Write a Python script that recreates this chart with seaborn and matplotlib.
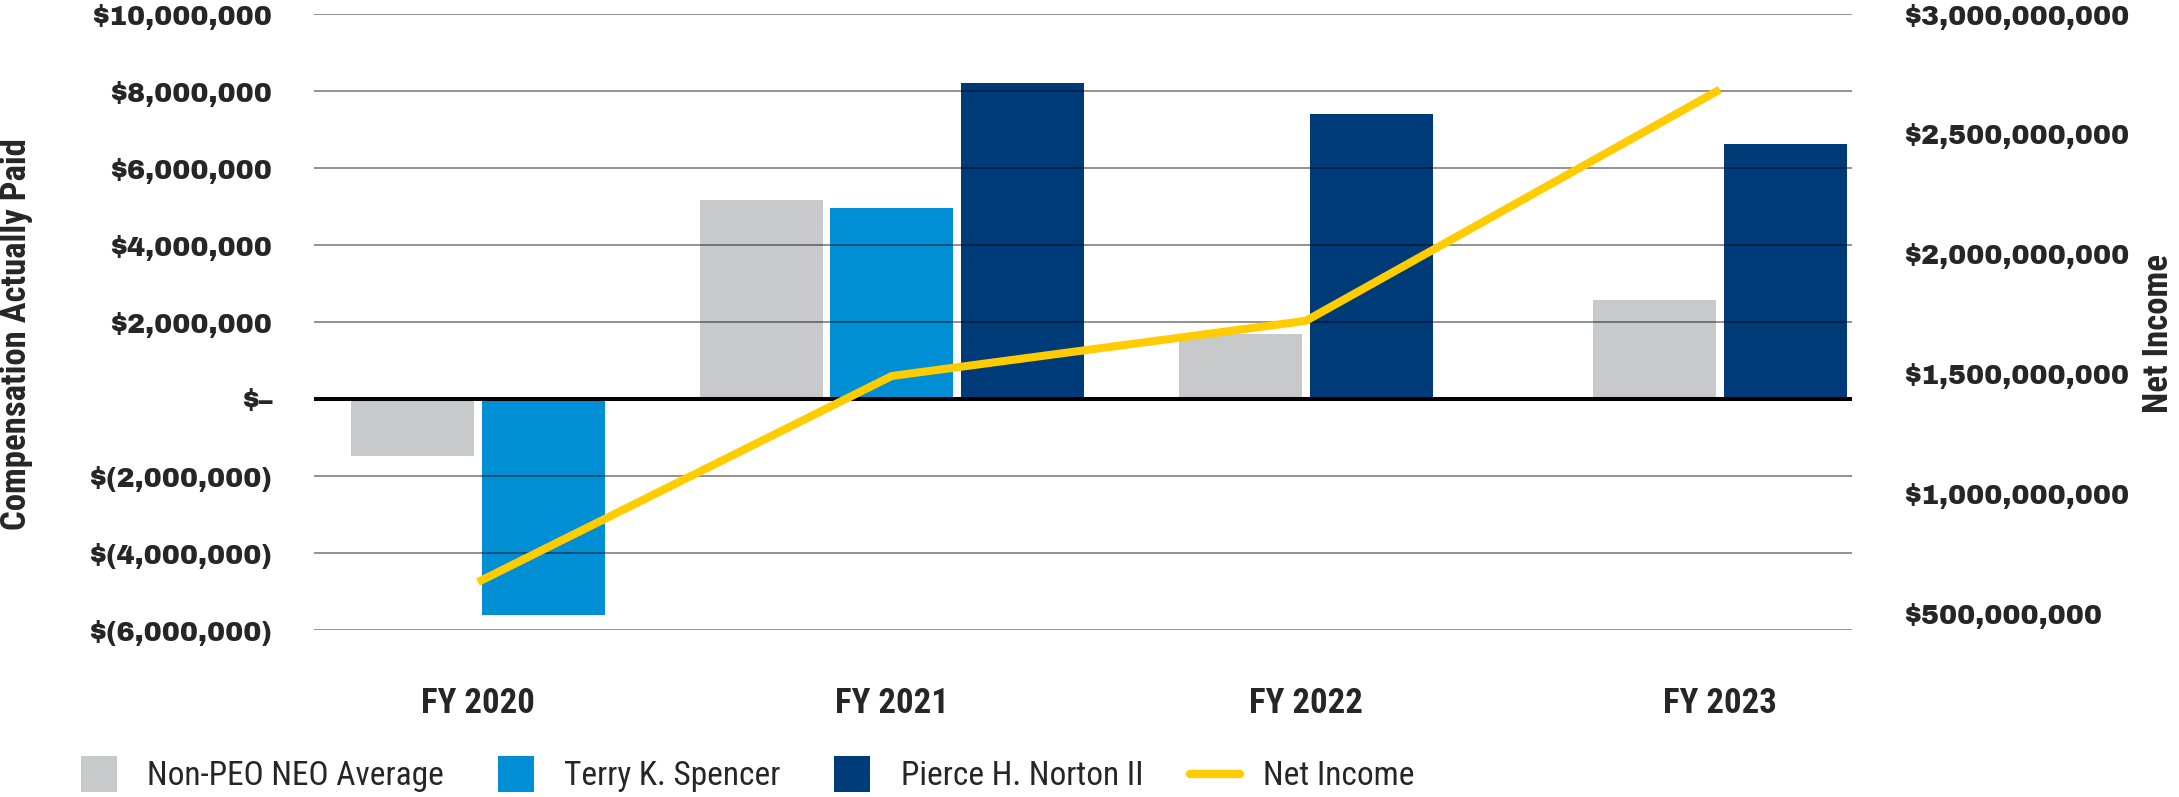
import numpy as np
import pandas as pd
import matplotlib
matplotlib.use('Agg')
import matplotlib.pyplot as plt
import seaborn as sns
from matplotlib.lines import Line2D

# values
years = ['FY 2020', 'FY 2021', 'FY 2022', 'FY 2023']
series = ['Non-PEO NEO Average', 'Terry K. Spencer', 'Pierce H. Norton II']
non_peo = [-1.49e6, 5.18e6, 1.68e6, 2.56e6]
spencer = [-5.62e6, 4.95e6, np.nan, np.nan]
norton = [np.nan, 8.21e6, 7.41e6, 6.62e6]
net_income = [630e6, 1490e6, 1720e6, 2685e6]

left_ticks = np.arange(-6e6, 10e6 + 1, 2e6)
right_ticks = np.arange(5e8, 3e9 + 1, 5e8)

colors = {'Non-PEO NEO Average': '#C8C9CB',
          'Terry K. Spencer': '#008ED5',
          'Pierce H. Norton II': '#003B79'}
line_color = '#FFCC00'

sns.set_theme(style='white')
plt.rcParams['font.family'] = ['DejaVu Sans']
narrow = ['Roboto Condensed', 'Liberation Sans Narrow', 'DejaVu Sans']
heavy = ['Archivo Black', 'DejaVu Sans']


def left_fmt(v):
    if abs(v) < 1:
        return '$\u2013'
    if v < 0:
        return f'$({-v:,.0f})'
    return f'${v:,.0f}'


df = pd.DataFrame({'year': years, series[0]: non_peo, series[1]: spencer, series[2]: norton})
bars = df.melt(id_vars='year', var_name='who', value_name='cap').dropna()
bars['who'] = pd.Categorical(bars['who'], series, ordered=True)
bars['slot'] = bars['year'].map({y: i for i, y in enumerate(years)})
bars = bars.sort_values(['slot', 'who']).reset_index(drop=True)

# only the bars that exist in a year are packed side by side round its slot
pitch = 0.316
bar_w = 0.297
bars['k'] = bars.groupby('slot').cumcount()
bars['n'] = bars.groupby('slot')['cap'].transform('size')
bars['x'] = bars['slot'] + (bars['k'] - (bars['n'] - 1) / 2) * pitch

fig = plt.figure(figsize=(21.79, 7.97), dpi=100)
ax = fig.add_axes([0.1441, 0.2095, 0.7058, 0.7729])

sns.barplot(data=bars, x='x', y='cap', hue='who', palette=colors, native_scale=True,
            dodge=False, width=bar_w / pitch, errorbar=None, saturation=1,
            linewidth=0, legend=False, ax=ax)

ax.set_xlim(-0.396, 3.319)
ax.set_ylim(-6e6, 10e6)
ax.set_axisbelow(False)
ax.yaxis.grid(True, color='black', alpha=0.5, lw=1.2)
ax.xaxis.grid(False)
ax.axhline(0, color='black', lw=2.9, zorder=3)

ax.set_yticks(left_ticks, labels=[left_fmt(v) for v in left_ticks],
              fontsize=19.5, fontweight='bold', family=heavy)
ax.set_xticks(range(len(years)), labels=years, fontsize=25, fontweight='heavy',
              family=narrow)
ax.tick_params(axis='y', length=0, pad=30)
ax.tick_params(axis='x', length=0, pad=41)
ax.set_xlabel('')
ax.set_ylabel('')

ax2 = ax.twinx()
sns.lineplot(x=range(len(years)), y=net_income, ax=ax2, color=line_color, lw=5.8,
             solid_capstyle='butt')
ax2.set_ylim(4.3e8, 3.0e9)
ax2.set_yticks(right_ticks, labels=[f'${v:,.0f}' for v in right_ticks],
               fontsize=19.5, fontweight='bold', family=heavy)
ax2.tick_params(axis='y', length=0, pad=37)
ax2.grid(False)

for a in (ax, ax2):
    for s in a.spines.values():
        s.set_visible(False)

fig.text(0.0075, 0.581, 'Compensation Actually Paid', rotation=90, ha='center',
         va='center', fontsize=25, fontweight='heavy', family=narrow)
fig.text(0.9905, 0.582, 'Net Income', rotation=90, ha='center', va='center',
         fontsize=25, fontweight='heavy', family=narrow)

handles = [Line2D([], [], marker='s', ls='none', markersize=26,
                  markerfacecolor=colors[s], markeredgewidth=0) for s in series]
handles.append(Line2D([], [], color=line_color, lw=6))
fig.legend(handles, series + ['Net Income'], loc='center left',
           bbox_to_anchor=(0.034, 0.026), ncol=4, frameon=False,
           handlelength=1.5, handletextpad=0.7, columnspacing=1.4,
           borderaxespad=0, borderpad=0, prop={'family': narrow, 'size': 24})

fig.savefig('out.png', dpi=100)
